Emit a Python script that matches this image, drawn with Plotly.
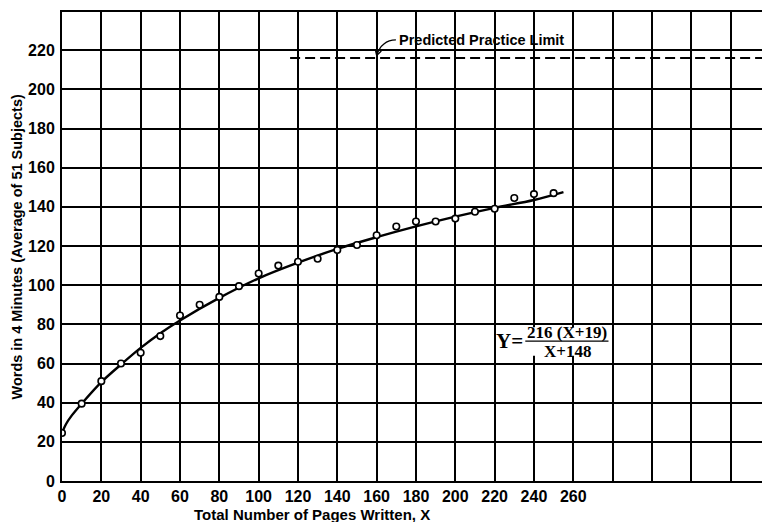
import plotly.graph_objects as go

# observed data points (pages written, words in 4 minutes)
pages = [0, 10, 20, 30, 40, 50, 60, 70, 80, 90, 100, 110, 120, 130, 140, 150,
         160, 170, 180, 190, 200, 210, 220, 230, 240, 250]
words = [24.5, 39.5, 51, 60, 65.5, 74, 84.5, 90, 94, 99.5, 106, 110, 112, 113.5,
         118, 120.5, 125.5, 130, 132.5, 132.5, 134, 137.5, 139, 144.5, 146.5, 147]

# fitted curve as drawn
curve_x = [0, 2, 5, 10, 20, 30, 40, 50, 60, 80, 100, 120, 140, 160, 180, 200, 220, 240, 255]
curve_y = [24.5, 29, 33.5, 39.5, 50.5, 59.5, 68, 75.5, 82, 93.5, 103.5, 111.5,
           118.5, 124.5, 130, 135, 139.5, 143.5, 147.5]

limit_y = 216
limit_x = [116, 358]

x_ticks = list(range(0, 341, 20))
x_labels = [str(v) if v <= 260 else "" for v in x_ticks]
y_ticks = list(range(0, 241, 20))
y_labels = [str(v) if v <= 220 else "" for v in y_ticks]

SANS = "Liberation Sans, Arial, sans-serif"
SERIF = "Liberation Serif, Times New Roman, serif"
tickfont = dict(family=SANS, size=16, color="black", weight="bold")

fig = go.Figure()
fig.add_trace(go.Scatter(x=curve_x, y=curve_y, mode="lines",
                         line=dict(color="black", width=2.4, shape="spline"),
                         hoverinfo="skip", showlegend=False))
fig.add_trace(go.Scatter(x=pages, y=words, mode="markers",
                         marker=dict(symbol="circle", size=6.5, color="white",
                                     line=dict(width=1.6, color="black")),
                         showlegend=False))
fig.add_trace(go.Scatter(x=limit_x, y=[limit_y, limit_y], mode="lines",
                         line=dict(color="black", width=1.8, dash="10px,5px"),
                         showlegend=False))

fig.update_xaxes(range=[0, 358], tickvals=x_ticks, ticktext=x_labels,
                 showgrid=True, gridcolor="black", gridwidth=1.5,
                 showline=True, linecolor="black", linewidth=2, mirror=True,
                 zeroline=False, ticks="", tickfont=tickfont, automargin=False)
fig.update_yaxes(range=[0, 239.5], tickvals=y_ticks, ticktext=y_labels,
                 showgrid=True, gridcolor="black", gridwidth=1.5,
                 showline=True, linecolor="black", linewidth=2, mirror=True,
                 zeroline=False, ticks="", tickfont=tickfont, automargin=False,
                 ticklabelstandoff=2)

# white box behind the equation
fig.add_shape(type="rect", x0=221, x1=279, y0=64, y1=78.5, xref="x", yref="y",
              fillcolor="white", line=dict(width=0), layer="between")
fig.add_shape(type="line", x0=235.6, x1=277.9, y0=71.4, y1=71.4, xref="x", yref="y",
              line=dict(color="black", width=1.2))

eqfont = dict(family=SERIF, size=17, color="black", weight="bold")
fig.add_annotation(x=235.6, y=71.4, text="Y=", showarrow=False, xanchor="right",
                   yanchor="middle", font=dict(family=SERIF, size=21, color="black", weight="bold"))
fig.add_annotation(x=257, y=75.8, text="216 (X+19)", showarrow=False,
                   yanchor="middle", font=eqfont)
fig.add_annotation(x=257, y=66.3, text="X+148", showarrow=False,
                   yanchor="middle", font=eqfont)

# label and hooked arrow for the practice limit
fig.add_annotation(x=170.5, y=225, text="Predicted Practice Limit", showarrow=False,
                   xanchor="left", yanchor="middle",
                   font=dict(family=SANS, size=14.5, color="black", weight="bold"))
fig.add_shape(type="path", xref="x", yref="y",
              path="M 169.8,225.3 Q 162.5,225.2 160,217.3",
              line=dict(color="black", width=1.3))
fig.add_shape(type="path", xref="x", yref="y",
              path="M 162.4,219.6 L 160,217.3 L 159.3,220.4",
              line=dict(color="black", width=1.3))

fig.add_annotation(x=127, y=-0.0704, xref="x", yref="paper",
                   text="Total Number of Pages Written, X", showarrow=False,
                   yanchor="middle",
                   font=dict(family=SANS, size=15, color="black", weight="bold"))
fig.add_annotation(x=-0.0653, y=0.5, xref="paper", yref="paper",
                   text="Words in 4 Minutes (Average of 51 Subjects)", showarrow=False,
                   textangle=-90, xanchor="center", yanchor="middle", borderpad=0,
                   font=dict(family=SANS, size=14.5, color="black", weight="bold"))

# page body adds an 8px offset, so the figure is sized to fit the window
fig.update_layout(width=762, height=514, margin=dict(l=54, r=4, t=4, b=41),
                  plot_bgcolor="white", paper_bgcolor="white")

fig.write_html("out.html")
